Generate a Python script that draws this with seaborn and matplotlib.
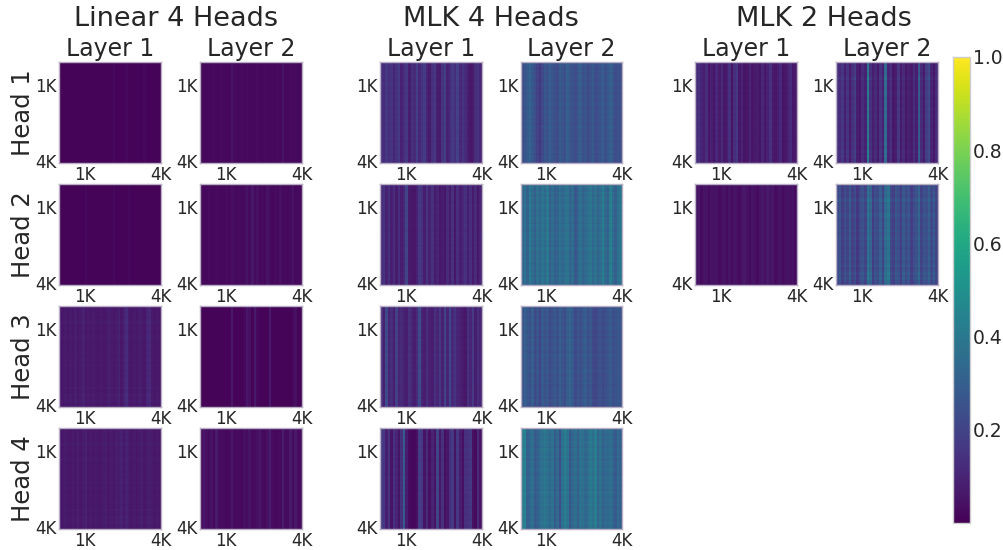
import numpy as np
import seaborn as sns
import matplotlib.pyplot as plt

# column strengths per panel, in percent left to right
lin_h1_l1 = [1,1,1,1,1,1,1,1,1,1,1,1,1,1,1,1,1,1,1,1,1,2,1,1,1,1,2,1,1,1,1,1,1,2,1,1,1,1,1,1]
lin_h1_l2 = [2,2,2,2,2,3,2,2,3,2,2,2,5,3,2,2,3,2,3,2,2,2,3,2,2,3,2,2,2,2,3,2,5,2,2,3,2,3,2,2]
lin_h2_l1 = [1,1,1,1,1,1,1,1,1,1,2,1,1,1,1,1,1,1,1,1,1,2,1,1,1,1,1,2,1,1,1,1,1,1,1,1,1,1,1,1]
lin_h2_l2 = [2,2,2,3,2,2,3,2,2,2,3,2,4,3,2,3,2,3,5,3,6,3,4,2,3,2,5,3,2,3,2,4,2,3,2,3,5,2,3,2]
lin_h3_l1 = [6,6,7,6,7,6,8,6,7,9,6,7,6,7,6,6,7,6,6,8,7,6,7,9,6,9,12,7,6,7,6,8,7,6,10,11,7,6,7,6]
lin_h3_l2 = [1,1,1,1,1,1,1,1,1,1,1,1,6,1,1,1,1,2,6,4,1,7,2,1,1,1,1,7,1,1,1,1,1,1,1,1,2,4,1,1]
lin_h4_l1 = [6,6,7,6,6,7,6,8,6,7,9,6,7,6,7,6,6,7,8,6,7,6,8,7,9,6,9,7,6,7,6,7,8,6,7,8,7,6,7,6]
lin_h4_l2 = [3,6,4,3,5,2,7,3,3,3,2,3,6,3,3,3,2,4,3,5,3,3,4,6,3,2,4,8,3,2,3,3,8,3,3,7,3,6,3,3]

mlk4_h1_l1 = [14,12,16,13,15,10,14,17,9,13,16,8,14,12,18,11,15,17,10,7,14,17,8,7,15,18,9,12,17,13,19,11,15,12,8,6,7,13,15,10]
mlk4_h1_l2 = [24,26,28,32,27,24,20,16,22,27,25,30,26,24,23,28,26,24,30,26,25,23,27,29,24,26,22,25,28,23,24,26,29,24,27,30,27,23,25,24]
mlk4_h2_l1 = [12,15,9,14,8,13,7,13,8,11,20,7,6,6,9,16,14,8,15,9,14,7,10,6,8,6,12,7,14,6,13,8,11,14,8,13,7,12,6,10]
mlk4_h2_l2 = [33,37,31,40,35,30,37,32,38,34,40,30,35,30,32,37,33,36,38,31,35,27,32,37,31,34,36,39,33,37,32,35,42,34,30,42,35,30,37,38]
mlk4_h3_l1 = [14,9,22,10,13,8,19,10,12,9,8,14,10,8,12,22,10,8,13,9,8,14,10,16,9,20,10,21,11,15,10,9,7,6,14,10,17,8,13,10]
mlk4_h3_l2 = [26,30,27,24,30,22,26,21,28,25,27,22,25,28,24,30,26,23,29,32,28,22,26,24,27,29,24,27,22,21,23,25,22,24,26,28,24,25,27,26]
mlk4_h4_l1 = [17,16,8,15,5,14,10,5,14,28,8,3,2,2,4,18,16,5,12,4,10,5,20,6,14,4,6,13,17,5,16,8,4,14,14,16,4,3,12,5]
mlk4_h4_l2 = [42,44,30,33,36,28,30,35,37,40,36,33,37,28,34,24,37,42,38,27,33,36,30,37,36,33,35,40,36,42,32,37,30,34,33,36,32,28,35,30]

mlk2_h1_l1 = [12,14,10,8,13,6,9,5,11,7,12,6,8,14,5,13,16,6,10,5,6,10,6,7,8,5,11,6,9,14,7,6,8,11,5,6,9,12,6,7]
mlk2_h1_l2 = [14,12,16,8,15,7,14,18,8,6,13,9,40,14,8,12,7,15,9,34,10,14,6,8,16,7,12,6,9,7,13,8,28,12,7,18,22,10,6,12]
mlk2_h2_l1 = [4,6,3,5,5,3,5,4,5,3,4,5,3,5,3,5,4,3,5,6,4,3,5,4,3,5,6,4,7,5,6,3,4,5,3,4,5,4,5,3]
mlk2_h2_l2 = [22,26,18,24,20,28,19,23,16,22,25,20,36,32,18,24,22,30,20,34,38,22,19,26,24,18,28,22,26,18,23,25,32,20,26,24,30,22,27,20]

# row strength, top to bottom, relative to the column strength
rows_flat = [1.0, 1.0, 1.0, 1.0, 1.0, 1.0, 1.0, 1.0]
rows_grain = [1.0, 1.03, 0.97, 1.02, 0.98, 1.03, 1.0, 0.97, 1.03, 1.0,
              0.98, 1.02, 0.97, 1.03, 1.0, 0.98, 1.02, 1.0, 0.97, 1.03,
              0.99, 1.02, 0.98, 1.01, 0.97, 1.03, 1.0, 0.98, 1.02, 0.99,
              1.03, 0.97, 1.01, 1.0, 0.98, 1.02, 0.97, 1.03, 1.0, 0.98]
rows_bands = [0.95, 1.0, 0.97, 1.02, 0.96, 1.0, 1.12, 0.96, 1.02, 1.0,
              0.97, 1.02, 1.06, 1.0, 0.96, 1.02, 1.0, 0.97, 1.03, 0.98,
              1.0, 1.05, 0.97, 1.02, 1.0, 0.96, 1.02, 0.98, 1.0, 1.03,
              0.97, 1.0, 1.08, 0.97, 1.0, 1.1, 1.02, 1.08, 0.98, 0.96]

head_names = ['Head 1', 'Head 2', 'Head 3', 'Head 4']
layer_names = ['Layer 1', 'Layer 2']
group_names = ['Linear 4 Heads', 'MLK 4 Heads', 'MLK 2 Heads']
cbar_ticks = [0.2, 0.4, 0.6, 0.8, 1.0]
pos_labels = ['1K', '4K']

sns.set_style('whitegrid')
W, H = 1004, 550
fig = plt.figure(figsize=(W / 100, H / 100), dpi=100)


def px_axes(x0, y0, x1, y1):
    return fig.add_axes([x0 / W, 1 - y1 / H, (x1 - x0) / W, (y1 - y0) / H])


col_x = [(59, 161), (200, 302), (380, 482), (521, 622), (695, 797), (836, 938)]
row_y = [(62, 163), (184, 285), (306, 407), (428, 529)]

panels = [
    (0, 0, lin_h1_l1, rows_flat), (0, 1, lin_h1_l2, rows_flat),
    (1, 0, lin_h2_l1, rows_flat), (1, 1, lin_h2_l2, rows_flat),
    (2, 0, lin_h3_l1, rows_bands), (2, 1, lin_h3_l2, rows_flat),
    (3, 0, lin_h4_l1, rows_bands), (3, 1, lin_h4_l2, rows_flat),
    (0, 2, mlk4_h1_l1, rows_grain), (0, 3, mlk4_h1_l2, rows_grain),
    (1, 2, mlk4_h2_l1, rows_grain), (1, 3, mlk4_h2_l2, rows_grain),
    (2, 2, mlk4_h3_l1, rows_grain), (2, 3, mlk4_h3_l2, rows_grain),
    (3, 2, mlk4_h4_l1, rows_grain), (3, 3, mlk4_h4_l2, rows_grain),
    (0, 4, mlk2_h1_l1, rows_grain), (0, 5, mlk2_h1_l2, rows_bands),
    (1, 4, mlk2_h2_l1, rows_flat), (1, 5, mlk2_h2_l2, rows_bands),
]

cax = px_axes(953, 57, 970, 523)
cbar = None

for r, c, col_vals, row_vals in panels:
    ax = px_axes(col_x[c][0], row_y[r][0], col_x[c][1], row_y[r][1])
    cells = np.outer(row_vals, col_vals) / 100
    first = cbar is None
    sns.heatmap(cells, ax=ax, cmap='viridis', vmin=0, vmax=1,
                cbar=first, cbar_ax=cax if first else None)
    if first:
        cbar = ax.collections[0].colorbar
    n_rows, n_cols = cells.shape
    ax.set_xticks([n_cols * 0.25, n_cols], pos_labels, rotation=0)
    ax.set_yticks([n_rows * 0.25, n_rows], pos_labels, rotation=0)
    ax.tick_params(length=0, labelsize=12, pad=2)
    for sp in ax.spines.values():
        sp.set_visible(True)
        sp.set_color('#b9b0c4')
        sp.set_linewidth(1)
    if r == 0:
        ax.set_title(layer_names[c % 2], fontsize=17, pad=4, color='.15')
    if c == 0:
        ax.set_ylabel(head_names[r], fontsize=17.5, labelpad=0, color='.15')

cbar.set_ticks(cbar_ticks)
cbar.ax.tick_params(length=0, labelsize=13.5, pad=2)
cbar.outline.set_edgecolor('.8')
cbar.outline.set_linewidth(1)
cbar.outline.set_visible(True)

for name, x in zip(group_names, [176.5, 491, 823.5]):
    fig.text(x / W, 1 - 19 / H, name, fontsize=19.5, ha='center', va='center', color='.15')

fig.savefig('out.png', dpi=100)
